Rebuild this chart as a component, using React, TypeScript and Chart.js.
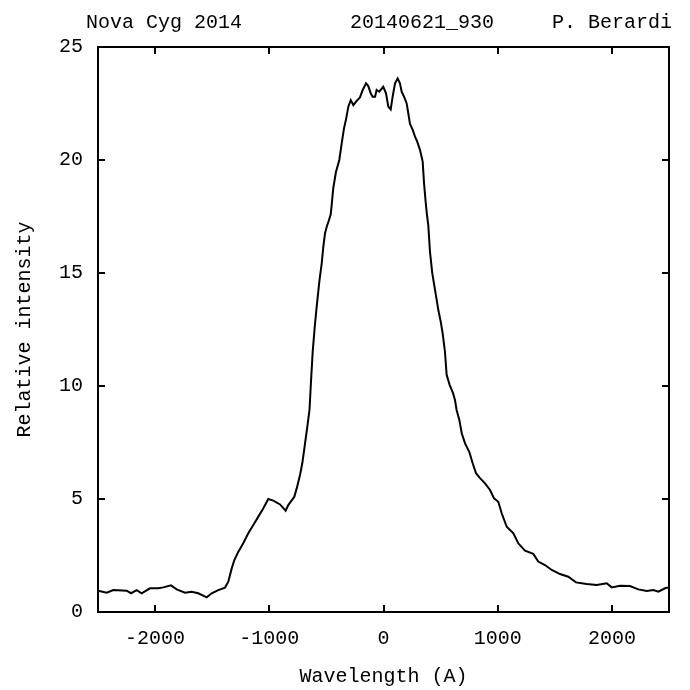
import { useEffect, useRef } from "react";
import { Chart, registerables, type ChartConfiguration, type Plugin } from "chart.js";

Chart.register(...registerables);

// Perfil di riga: lunghezza d'onda relativa (A) e intensità relativa.
const WAVELENGTH = [
  -2497, -2424, -2366, -2249, -2211, -2161, -2118, -2045, -1972, -1928,
  -1861, -1811, -1738, -1680, -1622, -1548, -1504, -1447, -1388, -1359,
  -1329, -1306, -1271, -1228, -1184, -1140, -1096, -1052, -1009, -965,
  -906, -857, -834, -781, -760, -731, -711, -687, -667, -648,
  -635, -620, -602, -585, -562, -541, -527, -512, -497, -480,
  -462, -454, -440, -416, -387, -366, -346, -328, -308, -287,
  -264, -235, -206, -182, -153, -133, -112, -95, -74, -60,
  -37, -2, 22, 42, 63, 80, 101, 124, 144, 159,
  180, 203, 217, 232, 256, 276, 296, 320, 343, 355,
  370, 380, 392, 407, 427, 451, 466, 480, 501, 518,
  538, 553, 579, 608, 626, 640, 664, 685, 714, 751,
  781, 810, 845, 889, 933, 968, 1005, 1035, 1079, 1137,
  1180, 1239, 1312, 1355, 1414, 1473, 1546, 1618, 1686, 1779,
  1867, 1955, 1998, 2071, 2158, 2231, 2305, 2363, 2407, 2465,
  2497,
];

const INTENSITY = [
  0.94, 0.85, 0.97, 0.94, 0.83, 0.97, 0.83, 1.05, 1.05, 1.09,
  1.18, 1.0, 0.85, 0.9, 0.83, 0.65, 0.83, 0.97, 1.08, 1.34,
  1.93, 2.3, 2.67, 3.04, 3.48, 3.85, 4.22, 4.59, 5.0, 4.93,
  4.76, 4.48, 4.73, 5.1, 5.47, 6.06, 6.58, 7.46, 8.2, 8.94,
  10.19, 11.52, 12.62, 13.51, 14.62, 15.43, 16.16, 16.76, 17.05, 17.3,
  17.6, 18.0, 18.75, 19.48, 20.0, 20.74, 21.4, 21.8, 22.36, 22.65,
  22.43, 22.62, 22.77, 23.1, 23.39, 23.27, 22.95, 22.8, 22.8, 23.1,
  23.02, 23.24, 22.95, 22.36, 22.24, 22.8, 23.39, 23.61, 23.39, 23.02,
  22.8, 22.5, 22.07, 21.6, 21.33, 21.03, 20.8, 20.44, 19.93, 18.97,
  18.1, 17.6, 17.12, 15.94, 14.99, 14.25, 13.8, 13.36, 12.85, 12.33,
  11.52, 10.5, 10.05, 9.7, 9.38, 8.94, 8.5, 7.91, 7.46, 7.09,
  6.58, 6.14, 5.92, 5.69, 5.4, 5.03, 4.88, 4.37, 3.77, 3.48,
  3.04, 2.71, 2.57, 2.23, 2.08, 1.86, 1.68, 1.56, 1.31, 1.24,
  1.19, 1.27, 1.09, 1.16, 1.15, 1.0, 0.93, 0.97, 0.9, 1.05,
  1.09,
];

const X_TICKS = [-2000, -1000, 0, 1000, 2000];
const Y_TICKS = [0, 5, 10, 15, 20, 25];
const HEADER = ["Nova Cyg 2014", "20140621_930", "P. Berardi"];

const FONT = "'Liberation Mono', 'DejaVu Sans Mono', monospace";

// Cornice e tacche interne su tutti e quattro i lati, stile gnuplot,
// più l'intestazione sopra il riquadro.
const cornice: Plugin<"line"> = {
  id: "cornice",
  afterDatasetsDraw(chart) {
    const { ctx, chartArea: a, scales } = chart;
    const tacca = 7;
    ctx.save();
    ctx.strokeStyle = "#000";
    ctx.lineWidth = 2;
    ctx.strokeRect(a.left, a.top, a.right - a.left, a.bottom - a.top);
    ctx.beginPath();
    for (const v of X_TICKS) {
      const x = Math.round(scales.x.getPixelForValue(v));
      ctx.moveTo(x, a.bottom);
      ctx.lineTo(x, a.bottom - tacca);
      ctx.moveTo(x, a.top);
      ctx.lineTo(x, a.top + tacca);
    }
    for (const v of Y_TICKS) {
      const y = Math.round(scales.y.getPixelForValue(v));
      ctx.moveTo(a.left, y);
      ctx.lineTo(a.left + tacca, y);
      ctx.moveTo(a.right, y);
      ctx.lineTo(a.right - tacca, y);
    }
    ctx.stroke();

    ctx.fillStyle = "#000";
    ctx.font = `20px ${FONT}`;
    ctx.textBaseline = "middle";
    ctx.textAlign = "left";
    const xs = [86, 350, 552];
    HEADER.forEach((t, i) => ctx.fillText(t, xs[i], 23));
    ctx.restore();
  },
};

export default function App() {
  const canvasRef = useRef<HTMLCanvasElement>(null);

  useEffect(() => {
    const canvas = canvasRef.current;
    if (!canvas) return;

    const config: ChartConfiguration<"line"> = {
      type: "line",
      data: {
        datasets: [
          {
            data: WAVELENGTH.map((x, i) => ({ x, y: INTENSITY[i] })),
            borderColor: "#000",
            borderWidth: 2,
            pointRadius: 0,
            tension: 0,
          },
        ],
      },
      options: {
        responsive: false,
        animation: false,
        layout: { padding: { left: 0, right: 21, top: 47, bottom: 0 } },
        plugins: { legend: { display: false }, tooltip: { enabled: false } },
        scales: {
          x: {
            type: "linear",
            min: -2500,
            max: 2500,
            afterBuildTicks: (s) => {
              s.ticks = X_TICKS.map((value) => ({ value }));
            },
            afterFit: (s) => {
              s.height = 78;
            },
            grid: { display: false, drawTicks: false },
            border: { display: false },
            ticks: {
              color: "#000",
              padding: 15,
              maxRotation: 0,
              font: { family: FONT, size: 20 },
              callback: (v) => String(v),
            },
            title: {
              display: true,
              text: "Wavelength (A)",
              color: "#000",
              padding: { top: 0, bottom: 1 },
              font: { family: FONT, size: 20 },
            },
          },
          y: {
            type: "linear",
            min: 0,
            max: 25,
            afterBuildTicks: (s) => {
              s.ticks = Y_TICKS.map((value) => ({ value }));
            },
            afterFit: (s) => {
              s.width = 98;
            },
            grid: { display: false, drawTicks: false },
            border: { display: false },
            ticks: {
              color: "#000",
              padding: 15,
              font: { family: FONT, size: 20 },
              callback: (v) => String(v),
            },
            title: {
              display: true,
              text: "Relative intensity",
              color: "#000",
              padding: { top: 13, bottom: 0 },
              font: { family: FONT, size: 20 },
            },
          },
        },
      },
      plugins: [cornice],
    };

    const chart = new Chart(canvas, config);
    return () => chart.destroy();
  }, []);

  return (
    <div style={{ position: "fixed", left: 0, top: 0, width: 690, height: 690, background: "#fff" }}>
      <canvas ref={canvasRef} width={690} height={690}></canvas>
    </div>
  );
}
